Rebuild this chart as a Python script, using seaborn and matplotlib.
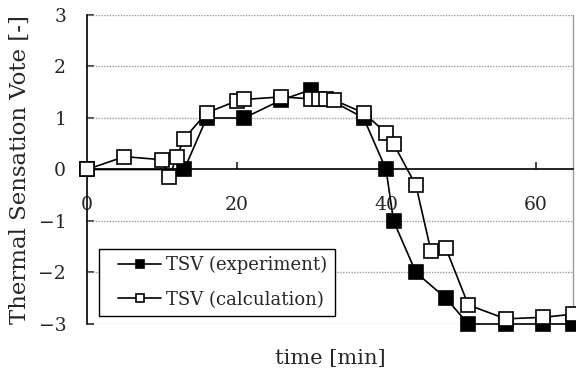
import numpy as np
import pandas as pd
import seaborn as sns
import matplotlib.pyplot as plt
from matplotlib.legend_handler import HandlerLine2D

# values
exp_time = [0, 13, 16, 21, 26, 30, 37, 40, 41, 44, 48, 51, 56, 61, 65]
exp_tsv = [0, 0, 1.0, 1.0, 1.35, 1.55, 1.0, 0, -1.0, -2.0, -2.5, -3.0, -3.0, -3.0, -3.0]

calc_time = [0, 5, 10, 11, 12, 13, 16, 20, 21, 26, 30, 31, 32, 33, 37,
             40, 41, 44, 46, 48, 51, 56, 61, 65]
calc_tsv = [0, 0.25, 0.19, -0.15, 0.25, 0.6, 1.1, 1.33, 1.36, 1.41, 1.37, 1.37,
            1.36, 1.35, 1.1, 0.71, 0.5, -0.31, -1.58, -1.53, -2.63, -2.9, -2.87, -2.81]

y_ticks = [-3, -2, -1, 0, 1, 2, 3]
x_ticks = [0, 20, 40, 60]

sns.set_style('white')
plt.rcParams['font.family'] = ['DejaVu Serif']

fig = plt.figure(figsize=(5.76, 3.74), dpi=100)
ax = fig.add_axes([0.151, 0.1337, 0.8438, 0.8262])

exp_df = pd.DataFrame({'time': exp_time, 'TSV': exp_tsv})
calc_df = pd.DataFrame({'time': calc_time, 'TSV': calc_tsv})

sns.lineplot(data=exp_df, x='time', y='TSV', ax=ax, color='black', lw=1.2,
             marker='s', markersize=9.5, markerfacecolor='black',
             markeredgecolor='black', markeredgewidth=1.2,
             label='TSV (experiment)', clip_on=False, zorder=3)
sns.lineplot(data=calc_df, x='time', y='TSV', ax=ax, color='black', lw=1.2,
             marker='s', markersize=9.5, markerfacecolor='white',
             markeredgecolor='black', markeredgewidth=1.2,
             label='TSV (calculation)', clip_on=False, zorder=4)

ax.set_xlim(0, 65)
ax.set_ylim(-3, 3)
ax.set_xticks(x_ticks)
ax.set_yticks(y_ticks)
ax.set_yticklabels([str(v).replace('-', '\u2212') for v in y_ticks])

# horizontal grid lines
for v in y_ticks:
    if v != 0:
        ax.axhline(v, color='#9a9a9a', lw=1.0, ls=(0, (1, 1)), zorder=1)

ax.spines['bottom'].set_position(('data', 0))
ax.spines['bottom'].set_color('black')
ax.spines['bottom'].set_linewidth(1.2)
ax.spines['left'].set_color('black')
ax.spines['left'].set_linewidth(1.2)
ax.spines['top'].set_visible(False)
ax.spines['right'].set_color('#9a9a9a')
ax.spines['right'].set_linewidth(1.0)

ax.tick_params(axis='x', direction='in', length=5, width=1.2, pad=19,
               labelsize=13.5, bottom=True)
ax.tick_params(axis='y', direction='in', length=5, width=1.2, pad=15,
               labelsize=13.5, left=True)

ax.set_xlabel('time [min]', fontsize=15)
ax.set_ylabel('Thermal Sensation Vote [-]', fontsize=16.5)
ax.xaxis.set_label_coords(0.5, -0.08)
ax.yaxis.set_label_coords(-0.115, 0.5)

leg = ax.legend(loc='lower left', bbox_to_anchor=(0.025, 0.026), borderaxespad=0,
                fancybox=False, edgecolor='black', framealpha=1, fontsize=13,
                handlelength=3.05, handletextpad=0.28, labelspacing=0.9,
                borderpad=0.4, markerscale=0.67,
                handler_map={plt.Line2D: HandlerLine2D(xpad=0.66)})
leg.get_frame().set_linewidth(1.0)

fig.savefig('out.png', dpi=100)
